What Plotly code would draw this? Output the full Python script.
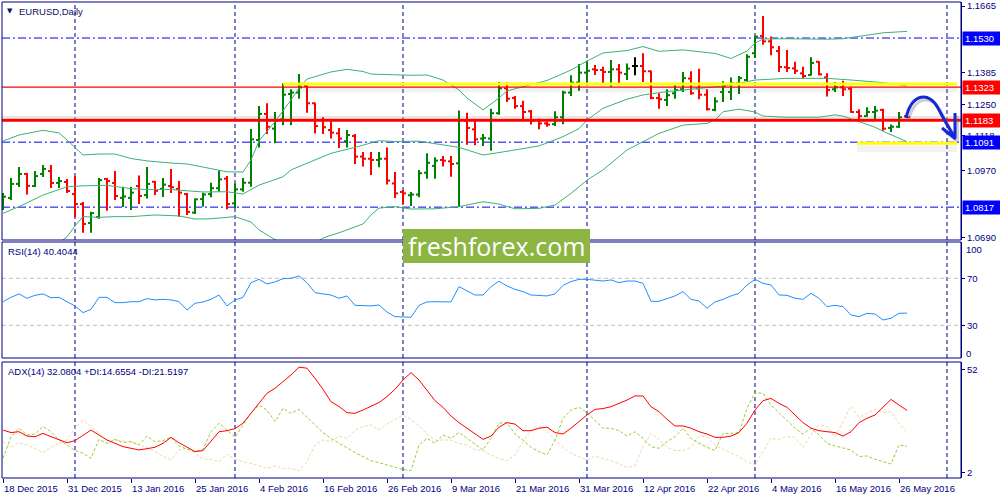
import plotly.graph_objects as go

# ---------------- data ----------------
tick_bars = [0, 8, 16, 24, 32, 40, 48, 56, 64, 72, 80, 88, 96, 104, 112]
tick_labels = ["18 Dec 2015", "31 Dec 2015", "13 Jan 2016", "25 Jan 2016", "4 Feb 2016",
               "16 Feb 2016", "26 Feb 2016", "9 Mar 2016", "21 Mar 2016", "31 Mar 2016",
               "12 Apr 2016", "22 Apr 2016", "4 May 2016", "16 May 2016", "26 May 2016"]
month_separators = [9, 29, 50, 73, 94, 118]

open_ = [1.0851, 1.0856, 1.0915, 1.0957, 1.0906, 1.0957, 1.0969, 1.0919, 1.0923, 1.0872,
         1.0830, 1.0750, 1.0775, 1.0936, 1.0919, 1.0856, 1.0856, 1.0906, 1.0868, 1.0924,
         1.0894, 1.0906, 1.0894, 1.0872, 1.0794, 1.0851, 1.0872, 1.0897, 1.0937, 1.0833,
         1.0892, 1.0920, 1.1100, 1.1210, 1.1148, 1.1187, 1.1294, 1.1300, 1.1328, 1.1255,
         1.1184, 1.1142, 1.1128, 1.1095, 1.1117, 1.1030, 1.1021, 1.1016, 1.1021, 1.0917,
         1.0881, 1.0867, 1.0870, 1.0962, 1.0991, 1.1016, 1.1010, 1.1002, 1.1181, 1.1145,
         1.1106, 1.1106, 1.1213, 1.1318, 1.1277, 1.1243, 1.1221, 1.1184, 1.1170, 1.1167,
         1.1196, 1.1300, 1.1342, 1.1384, 1.1398, 1.1395, 1.1387, 1.1398, 1.1378, 1.1412,
         1.1412, 1.1390, 1.1277, 1.1269, 1.1297, 1.1314, 1.1359, 1.1318, 1.1291, 1.1227,
         1.1302, 1.1302, 1.1339, 1.1353, 1.1466, 1.1539, 1.1516, 1.1475, 1.1407, 1.1402,
         1.1381, 1.1374, 1.1430, 1.1364, 1.1314, 1.1322, 1.1316, 1.1218, 1.1201, 1.1218,
         1.1227, 1.1151, 1.1156, 1.1201]
high = [1.0877, 1.0940, 1.0986, 1.0961, 1.0969, 1.0995, 1.0995, 1.0944, 1.0936, 1.0948,
        1.0839, 1.0798, 1.0940, 1.0940, 1.0969, 1.0903, 1.0903, 1.0950, 1.0986, 1.0927,
        1.0940, 1.0978, 1.0927, 1.0877, 1.0853, 1.0878, 1.0920, 1.0971, 1.0948, 1.0917,
        1.0940, 1.1146, 1.1243, 1.1255, 1.1218, 1.1339, 1.1314, 1.1378, 1.1331, 1.1257,
        1.1196, 1.1179, 1.1151, 1.1142, 1.1125, 1.1050, 1.1050, 1.1050, 1.1069, 1.0965,
        1.0889, 1.0881, 1.0974, 1.1044, 1.1027, 1.1033, 1.1033, 1.1224, 1.1215, 1.1184,
        1.1125, 1.1232, 1.1345, 1.1342, 1.1286, 1.1266, 1.1227, 1.1190, 1.1176, 1.1221,
        1.1308, 1.1373, 1.1420, 1.1434, 1.1416, 1.1409, 1.1437, 1.1420, 1.1423, 1.1449,
        1.1466, 1.1392, 1.1297, 1.1314, 1.1336, 1.1387, 1.1390, 1.1401, 1.1314, 1.1280,
        1.1348, 1.1364, 1.1370, 1.1462, 1.1539, 1.1623, 1.1536, 1.1496, 1.1480, 1.1430,
        1.1409, 1.1449, 1.1432, 1.1381, 1.1345, 1.1350, 1.1322, 1.1230, 1.1238, 1.1243,
        1.1232, 1.1165, 1.1218, 1.1203]
low = [1.0805, 1.0847, 1.0902, 1.0870, 1.0902, 1.0944, 1.0898, 1.0898, 1.0877, 1.0775,
       1.0709, 1.0709, 1.0768, 1.0802, 1.0847, 1.0818, 1.0805, 1.0830, 1.0853, 1.0868,
       1.0860, 1.0877, 1.0777, 1.0784, 1.0788, 1.0819, 1.0859, 1.0882, 1.0808, 1.0812,
       1.0882, 1.0903, 1.1069, 1.1125, 1.1086, 1.1162, 1.1162, 1.1274, 1.1215, 1.1128,
       1.1125, 1.1106, 1.1066, 1.1069, 1.0999, 1.0988, 1.0953, 1.0985, 1.0912, 1.0856,
       1.0830, 1.0822, 1.0859, 1.0937, 1.0937, 1.0988, 1.0945, 1.0819, 1.1080, 1.1078,
       1.1075, 1.1055, 1.1207, 1.1260, 1.1232, 1.1187, 1.1165, 1.1145, 1.1156, 1.1159,
       1.1167, 1.1286, 1.1308, 1.1333, 1.1374, 1.1336, 1.1325, 1.1336, 1.1353, 1.1373,
       1.1345, 1.1272, 1.1232, 1.1243, 1.1274, 1.1302, 1.1291, 1.1272, 1.1224, 1.1221,
       1.1260, 1.1269, 1.1294, 1.1349, 1.1446, 1.1502, 1.1457, 1.1387, 1.1387, 1.1378,
       1.1360, 1.1372, 1.1373, 1.1283, 1.1302, 1.1286, 1.1215, 1.1184, 1.1198, 1.1184,
       1.1139, 1.1134, 1.1151, 1.1193]
close = [1.0861, 1.0915, 1.0957, 1.0907, 1.0948, 1.0978, 1.0919, 1.0927, 1.0885, 1.0830,
         1.0746, 1.0792, 1.0931, 1.0927, 1.0864, 1.0862, 1.0878, 1.0864, 1.0915, 1.0886,
         1.0912, 1.0901, 1.0878, 1.0797, 1.0850, 1.0870, 1.0897, 1.0934, 1.0830, 1.0892,
         1.0920, 1.1103, 1.1210, 1.1156, 1.1181, 1.1291, 1.1300, 1.1322, 1.1255, 1.1159,
         1.1154, 1.1131, 1.1106, 1.1121, 1.1030, 1.1021, 1.1016, 1.1021, 1.0929, 1.0875,
         1.0875, 1.0870, 1.0960, 1.1004, 1.1013, 1.1013, 1.0999, 1.1184, 1.1151, 1.1103,
         1.1109, 1.1213, 1.1318, 1.1274, 1.1243, 1.1218, 1.1181, 1.1170, 1.1165, 1.1196,
         1.1300, 1.1342, 1.1384, 1.1392, 1.1395, 1.1387, 1.1398, 1.1384, 1.1401, 1.1412,
         1.1390, 1.1277, 1.1272, 1.1289, 1.1311, 1.1361, 1.1297, 1.1291, 1.1230, 1.1263,
         1.1328, 1.1339, 1.1361, 1.1451, 1.1536, 1.1516, 1.1491, 1.1408, 1.1404, 1.1392,
         1.1370, 1.1425, 1.1377, 1.1311, 1.1322, 1.1314, 1.1218, 1.1201, 1.1218, 1.1224,
         1.1148, 1.1156, 1.1196, 1.1196]

# Bollinger Bands(20) read at the bars where they bend
bb_upper_x = [0, 2, 5, 7, 8, 10, 12, 14, 16, 18, 21, 23, 25, 27, 28, 30, 31, 32, 34, 36, 37, 38,
              41, 43, 45, 46, 49, 51, 53, 55, 57, 58, 60, 62, 63, 66, 68, 71, 73, 75, 78, 80, 82,
              85, 89, 91, 93, 94, 95, 98, 100, 103, 105, 108, 110, 113]
bb_upper = [1.1096, 1.1121, 1.1141, 1.1130, 1.1100, 1.1037, 1.1041, 1.1041, 1.1022, 1.1012,
            1.1003, 1.0999, 1.0986, 1.0974, 1.0966, 1.0965, 1.1016, 1.1096, 1.1177, 1.1269,
            1.1319, 1.1357, 1.1387, 1.1398, 1.1389, 1.1378, 1.1374, 1.1373, 1.1374, 1.1353,
            1.1311, 1.1277, 1.1227, 1.1277, 1.1307, 1.1333, 1.1351, 1.1395, 1.1433, 1.1467,
            1.1477, 1.1494, 1.1474, 1.1480, 1.1465, 1.1444, 1.1475, 1.1508, 1.1526, 1.1527,
            1.1525, 1.1525, 1.1527, 1.1541, 1.1552, 1.1558]
bb_mid_x = [0, 2, 5, 8, 10, 13, 16, 18, 21, 23, 25, 28, 30, 32, 35, 36, 39, 41, 44, 46, 47, 49,
            52, 57, 60, 62, 65, 67, 70, 72, 73, 75, 78, 80, 83, 85, 89, 91, 93, 94, 98, 101, 103,
            106, 110, 113]
bb_mid = [1.0791, 1.0819, 1.0868, 1.0903, 1.0907, 1.0909, 1.0895, 1.0891, 1.0891, 1.0886,
          1.0881, 1.0882, 1.0872, 1.0910, 1.0945, 1.0974, 1.1016, 1.1044, 1.1069, 1.1089,
          1.1097, 1.1094, 1.1095, 1.1069, 1.1037, 1.1047, 1.1065, 1.1075, 1.1114, 1.1148,
          1.1184, 1.1234, 1.1272, 1.1290, 1.1304, 1.1311, 1.1322, 1.1331, 1.1346, 1.1353,
          1.1360, 1.1361, 1.1360, 1.1353, 1.1342, 1.1328]
bb_lower_x = [0, 3, 6, 7, 8, 9, 10, 12, 14, 16, 19, 22, 24, 26, 29, 31, 32, 34, 35, 36, 37, 38,
              39, 40, 42, 45, 46, 47, 49, 51, 54, 57, 60, 62, 64, 67, 69, 71, 73, 75, 78, 80, 82,
              85, 88, 89, 90, 92, 94, 95, 98, 102, 104, 105, 107, 109, 110, 112, 113]
bb_lower = [1.0531, 1.0573, 1.0628, 1.0666, 1.0692, 1.0738, 1.0777, 1.0774, 1.0777, 1.0777,
            1.0784, 1.0780, 1.0767, 1.0768, 1.0777, 1.0754, 1.0721, 1.0678, 1.0657, 1.0636,
            1.0619, 1.0636, 1.0666, 1.0687, 1.0709, 1.0746, 1.0784, 1.0813, 1.0819, 1.0809,
            1.0810, 1.0819, 1.0840, 1.0830, 1.0810, 1.0812, 1.0826, 1.0875, 1.0931, 1.0974,
            1.1058, 1.1093, 1.1128, 1.1163, 1.1170, 1.1184, 1.1219, 1.1230, 1.1218, 1.1201,
            1.1196, 1.1196, 1.1206, 1.1201, 1.1177, 1.1154, 1.1137, 1.1107, 1.1093]

rsi = [50.1, 53.8, 56.7, 53.0, 55.5, 56.7, 53.5, 53.8, 50.1, 46.5,
       40.8, 43.6, 53.8, 53.8, 49.3, 49.3, 50.1, 50.1, 52.7, 51.6,
       52.1, 51.6, 50.1, 43.0, 48.7, 49.9, 52.1, 55.8, 46.5, 51.6,
       53.8, 66.3, 69.1, 65.2, 66.9, 69.7, 70.0, 72.0, 66.3, 57.8,
       56.7, 55.8, 53.0, 55.0, 47.0, 46.5, 46.5, 47.3, 41.3, 37.4,
       36.8, 36.8, 47.0, 49.9, 50.1, 50.1, 49.9, 62.9, 59.5, 55.8,
       55.8, 62.9, 67.5, 63.5, 60.6, 58.7, 55.8, 55.5, 55.0, 56.7,
       64.0, 67.2, 69.1, 69.1, 68.3, 67.7, 68.6, 66.3, 67.7, 67.7,
       65.7, 50.4, 50.4, 52.4, 55.0, 58.7, 52.1, 50.7, 44.5, 49.9,
       52.1, 55.0, 57.2, 64.3, 69.1, 65.7, 64.3, 55.8, 55.5, 53.0,
       52.1, 57.2, 53.0, 45.9, 47.0, 45.9, 38.8, 37.4, 40.2, 39.6,
       34.5, 36.0, 40.2, 40.4]
adx = [22.6, 21.4, 21.8, 19.7, 19.4, 21.0, 19.4, 17.8, 16.5, 17.5,
       20.2, 22.6, 20.2, 17.8, 16.2, 14.6, 13.8, 13.0, 13.6, 14.3,
       16.2, 19.1, 16.5, 14.3, 12.2, 12.7, 17.0, 21.8, 22.3, 23.3,
       25.9, 30.7, 35.9, 40.4, 42.8, 46.0, 49.2, 53.0, 52.5, 47.6,
       42.3, 36.3, 34.0, 31.0, 30.7, 32.3, 33.9, 35.9, 38.8, 42.3,
       46.8, 50.4, 46.8, 42.0, 36.8, 33.6, 29.4, 26.2, 23.5, 21.0,
       18.1, 19.7, 24.0, 26.2, 25.5, 22.3, 22.3, 23.5, 24.0, 21.4,
       20.7, 23.5, 26.7, 29.9, 32.6, 33.0, 33.9, 35.5, 37.1, 39.1,
       39.1, 33.9, 31.5, 27.8, 24.6, 24.6, 23.5, 21.8, 20.7, 19.1,
       19.1, 19.7, 21.4, 25.9, 32.3, 36.8, 37.9, 35.5, 33.6, 29.9,
       26.2, 23.5, 22.3, 21.8, 21.4, 19.7, 21.8, 26.2, 28.3, 29.9,
       33.9, 37.4, 34.7, 32.1]
plus_di = [9.0, 19.4, 23.5, 20.2, 20.7, 24.3, 21.8, 17.8, 15.4, 12.7,
           11.4, 9.0, 18.1, 16.2, 18.1, 16.5, 17.0, 15.4, 19.7, 17.0,
           17.5, 19.1, 14.9, 13.3, 12.2, 13.3, 21.8, 25.9, 22.6, 19.1,
           25.0, 31.0, 34.7, 32.3, 26.7, 33.1, 30.7, 32.6, 28.8, 25.1,
           21.4, 18.6, 16.2, 13.8, 11.7, 9.8, 7.8, 6.8, 5.7, 4.9,
           3.6, 3.0, 15.4, 18.6, 16.2, 20.2, 18.6, 21.4, 18.6, 16.2,
           13.0, 18.6, 26.0, 26.2, 20.7, 17.8, 14.3, 12.2, 10.6, 17.8,
           28.3, 32.3, 33.6, 31.0, 27.1, 23.5, 23.5, 22.3, 19.7, 21.8,
           18.6, 14.6, 13.8, 17.0, 19.4, 23.5, 18.6, 16.2, 14.3, 12.7,
           21.0, 21.0, 21.4, 33.1, 40.7, 40.4, 34.7, 31.0, 27.5, 23.5,
           20.7, 23.5, 20.2, 16.2, 14.9, 13.8, 13.0, 9.8, 10.1, 8.5,
           7.3, 6.2, 15.4, 14.7]
minus_di = [17.0, 14.3, 16.5, 15.4, 13.8, 11.7, 14.3, 16.2, 17.8, 23.5,
            27.5, 24.3, 20.7, 17.5, 17.8, 17.5, 17.0, 15.4, 14.3, 12.2,
            9.8, 8.1, 13.0, 13.8, 11.4, 8.5, 8.5, 7.3, 11.0, 8.5,
            7.3, 6.5, 5.2, 4.1, 5.2, 4.1, 4.1, 3.0, 7.3, 15.4,
            17.8, 17.0, 19.7, 18.6, 22.6, 24.3, 25.1, 22.6, 25.5, 27.5,
            29.9, 27.8, 24.6, 20.7, 17.8, 17.8, 17.8, 16.2, 15.4, 13.0,
            12.7, 10.6, 8.7, 7.8, 10.6, 17.0, 22.6, 24.6, 21.8, 17.8,
            14.3, 11.4, 9.8, 8.1, 10.1, 9.0, 7.8, 6.5, 4.6, 5.2,
            14.6, 21.0, 18.1, 14.3, 12.7, 12.7, 14.3, 19.7, 19.4, 15.4,
            13.3, 11.4, 9.8, 7.3, 5.7, 12.2, 18.6, 18.1, 19.4, 19.1,
            14.3, 20.2, 25.1, 24.3, 19.1, 26.7, 34.2, 28.8, 30.7, 32.6,
            31.0, 31.5, 25.9, 21.5]

price_ticks = [1.1665, 1.1385, 1.1250, 1.1118, 1.0970, 1.0690]
blue_levels = [1.1530, 1.1091, 1.0817]
red_thin_level = 1.1323
red_thick_level = 1.1183
boxed_labels = [(1.1530, "#0000ff"), (1.1323, "#ff0000"), (1.1183, "#ff0000"),
                (1.1091, "#0000ff"), (1.0817, "#0000ff")]
yellow_marks = [(35, 119.25, 1.1336), (106.75, 119.25, 1.1086)]
rsi_levels = [70, 30]
adx_ticks = [52, 2]

# ---------------- geometry / style ----------------
W, H = 1000, 500
L, R, T, B = 2, 961, 2, 478
NAVY = "#000080"
FONT = "Liberation Sans, Arial, sans-serif"
PRICE_DOM = [(B - 240) / (B - T), 1.0]
RSI_DOM = [(B - 358) / (B - T), (B - 242) / (B - T)]
ADX_DOM = [0.0, (B - 362) / (B - T)]


def px(x):
    return (x - L) / (R - L)


def py(y):
    return (B - y) / (B - T)


TICK = 0.375


def bar_path(idx):
    xs, ys = [], []
    for i in idx:
        xs += [i, i, None, i - TICK, i, None, i, i + TICK, None]
        ys += [low[i], high[i], None, open_[i], open_[i], None, close[i], close[i], None]
    return xs, ys


n = len(close)
up = [i for i in range(n) if close[i] > open_[i]]
dn = [i for i in range(n) if close[i] < open_[i]]
dj = [i for i in range(n) if close[i] == open_[i]]
bars_x = list(range(n))

fig = go.Figure()
for idx, col in [(up, "#008000"), (dn, "#ff0000"), (dj, "#000000")]:
    xs, ys = bar_path(idx)
    fig.add_trace(go.Scatter(x=xs, y=ys, mode="lines", line=dict(color=col, width=2),
                             hoverinfo="skip", xaxis="x", yaxis="y"))

for bx, by in [(bb_upper_x, bb_upper), (bb_mid_x, bb_mid), (bb_lower_x, bb_lower)]:
    fig.add_trace(go.Scatter(x=bx, y=by, mode="lines", line=dict(color="#3cb371", width=1),
                             hoverinfo="skip", xaxis="x", yaxis="y"))

fig.add_trace(go.Scatter(x=bars_x, y=rsi, mode="lines", line=dict(color="#1e90ff", width=1),
                         hoverinfo="skip", xaxis="x", yaxis="y2"))

fig.add_trace(go.Scatter(x=bars_x, y=minus_di, mode="lines",
                         line=dict(color="#f5d6a8", width=1, dash="3px,2px"),
                         hoverinfo="skip", xaxis="x", yaxis="y3"))
fig.add_trace(go.Scatter(x=bars_x, y=plus_di, mode="lines",
                         line=dict(color="#9acd32", width=1, dash="3px,2px"),
                         hoverinfo="skip", xaxis="x", yaxis="y3"))
fig.add_trace(go.Scatter(x=bars_x, y=adx, mode="lines", line=dict(color="#ff0000", width=1),
                         hoverinfo="skip", xaxis="x", yaxis="y3"))

shapes = []
# shadows under yellow marks
for x0, x1, lv in yellow_marks:
    shapes.append(dict(type="rect", xref="x", yref="y", x0=x0, x1=x1, y0=lv - 0.0036, y1=lv - 0.0008,
                       fillcolor="rgba(150,150,150,0.12)", line=dict(width=0), layer="below"))
# month separators
for yr in ["y domain", "y2 domain", "y3 domain"]:
    for s in month_separators:
        shapes.append(dict(type="line", xref="x", yref=yr, x0=s, x1=s, y0=0, y1=1,
                           line=dict(color=NAVY, width=1, dash="4px,3px"), layer="below"))
# RSI levels
for lv in rsi_levels:
    shapes.append(dict(type="line", xref="paper", yref="y2", x0=0, x1=1, y0=lv, y1=lv,
                       line=dict(color="#c0c0c0", width=1, dash="4px,3px"), layer="below"))
# bid line
shapes.append(dict(type="line", xref="paper", yref="y", x0=0, x1=1, y0=close[-1] + 0.0001,
                   y1=close[-1] + 0.0001, line=dict(color="#d0d0d0", width=1), layer="below"))
# blue dash-dot levels
for lv in blue_levels:
    shapes.append(dict(type="line", xref="paper", yref="y", x0=0, x1=1, y0=lv, y1=lv,
                       line=dict(color="#0000ff", width=1, dash="8px,3px,2px,3px"), layer="below"))
# red levels
shapes.append(dict(type="line", xref="paper", yref="y", x0=0, x1=1, y0=red_thin_level,
                   y1=red_thin_level, line=dict(color="#ff0000", width=1.3), layer="above"))
shapes.append(dict(type="line", xref="paper", yref="y", x0=0, x1=1, y0=red_thick_level,
                   y1=red_thick_level, line=dict(color="#ff0000", width=3), layer="above"))
# yellow marks
for x0, x1, lv in yellow_marks:
    shapes.append(dict(type="line", xref="x", yref="y", x0=x0, x1=x1, y0=lv, y1=lv,
                       line=dict(color="#ffff00", width=3), layer="above"))

# hand drawn arrow (bar, price)
arrow_curve = [(112.875, 1.11928), (113.625, 1.13024), (115.875, 1.13024), (116.875, 1.12350),
               (117.99, 1.11633), (119.0, 1.11085)]
arrow_head = [((119.0, 1.12139), (119.0, 1.11085)), ((117.375, 1.11507), (119.1, 1.11043))]


def arrow_paths(dx, dy):
    p = arrow_curve
    s = (f"M {p[0][0]+dx},{p[0][1]+dy} C {p[1][0]+dx},{p[1][1]+dy} {p[2][0]+dx},{p[2][1]+dy} "
         f"{p[3][0]+dx},{p[3][1]+dy} Q {p[4][0]+dx},{p[4][1]+dy} {p[5][0]+dx},{p[5][1]+dy}")
    for a, b in arrow_head:
        s += f" M {a[0]+dx},{a[1]+dy} L {b[0]+dx},{b[1]+dy}"
    return s


shapes.append(dict(type="path", xref="x", yref="y", path=arrow_paths(0.3, -0.0012),
                   line=dict(color="rgba(110,110,130,0.35)", width=3), layer="above"))
shapes.append(dict(type="path", xref="x", yref="y", path=arrow_paths(0, 0),
                   line=dict(color="#1428d8", width=3), layer="above"))

# panel frames
for dom in [PRICE_DOM, RSI_DOM, ADX_DOM]:
    shapes.append(dict(type="rect", xref="paper", yref="paper", x0=0, x1=1, y0=dom[0], y1=dom[1],
                       line=dict(color=NAVY, width=1), layer="above"))
# watermark box
shapes.append(dict(type="rect", xref="paper", yref="paper", x0=px(403), x1=px(590),
                   y0=py(263), y1=py(229), fillcolor="#8db543", line=dict(width=0), layer="above"))

ann = []
ann.append(dict(xref="paper", yref="paper", x=px(496.5), y=py(246), text="freshforex.com",
                showarrow=False, font=dict(family="Open Sans, sans-serif", size=25, color="white"),
                xanchor="center", yanchor="middle"))
ann.append(dict(xref="paper", yref="paper", x=px(5), y=py(10.5), text="▼", showarrow=False,
                font=dict(family="DejaVu Sans", size=7, color="#10105a"), xanchor="left",
                yanchor="middle"))
ann.append(dict(xref="paper", yref="paper", x=px(17), y=py(11), text="EURUSD,Daily",
                showarrow=False, font=dict(family=FONT, size=9.5, color="#10105a"),
                xanchor="left", yanchor="middle"))
ann.append(dict(xref="paper", yref="paper", x=px(6), y=py(251.7), text="RSI(14) 40.4044",
                showarrow=False, font=dict(family=FONT, size=9.5, color=NAVY),
                xanchor="left", yanchor="middle"))
ann.append(dict(xref="paper", yref="paper", x=px(6), y=py(371.7),
                text="ADX(14) 32.0804 +DI:14.6554 -DI:21.5197",
                showarrow=False, font=dict(family=FONT, size=9.5, color=NAVY),
                xanchor="left", yanchor="middle"))
for t, ypx in [("100", 249.3), ("0", 353.3)]:
    ann.append(dict(xref="paper", yref="paper", x=1, xshift=3, y=py(ypx), text=t,
                    showarrow=False, font=dict(family=FONT, size=9.5, color=NAVY),
                    xanchor="left", yanchor="middle"))
for lv, col in boxed_labels:
    ann.append(dict(xref="paper", yref="y", x=1, xshift=1, y=lv, text=f"{lv:.4f}",
                    showarrow=False, font=dict(family=FONT, size=9.5, color="white"),
                    bgcolor=col, width=34, height=9, borderpad=2, align="left",
                    xanchor="left", yanchor="middle"))
for b, t in zip(tick_bars, tick_labels):
    ann.append(dict(xref="x", yref="paper", x=b, y=py(488.3), text=t, showarrow=False,
                    font=dict(family=FONT, size=9.5, color=NAVY), xanchor="left",
                    yanchor="middle", xshift=-1))

axis_common = dict(side="right", anchor="x", showgrid=False, zeroline=False, ticks="outside",
                   ticklen=3, tickcolor=NAVY, showline=True, linecolor=NAVY, linewidth=1,
                   tickfont=dict(family=FONT, size=9.5, color=NAVY), fixedrange=True,
                   automargin=False)

fig.update_layout(
    width=W, height=H,
    margin=dict(l=L, r=W - R, t=T, b=H - B, autoexpand=False),
    paper_bgcolor="white", plot_bgcolor="white",
    showlegend=False,
    xaxis=dict(domain=[0, 1], range=[-0.125, 119.75], anchor="y3", showgrid=False,
               zeroline=False, showline=False, tickvals=tick_bars, ticks="outside", ticklen=4,
               tickcolor=NAVY, showticklabels=False, fixedrange=True, automargin=False),
    yaxis=dict(domain=PRICE_DOM, range=[1.06785, 1.16819], tickvals=price_ticks,
               tickformat=".4f", **axis_common),
    yaxis2=dict(domain=RSI_DOM, range=[2.17, 100.9], tickvals=rsi_levels, **axis_common),
    yaxis3=dict(domain=ADX_DOM, range=[-0.56, 55.5], tickvals=adx_ticks, **axis_common),
    shapes=shapes,
    annotations=ann,
)

fig.write_html(
    "out.html",
    config={"displayModeBar": False, "responsive": False},
    post_script="document.body.style.margin='0px';document.body.style.padding='0px';",
)
